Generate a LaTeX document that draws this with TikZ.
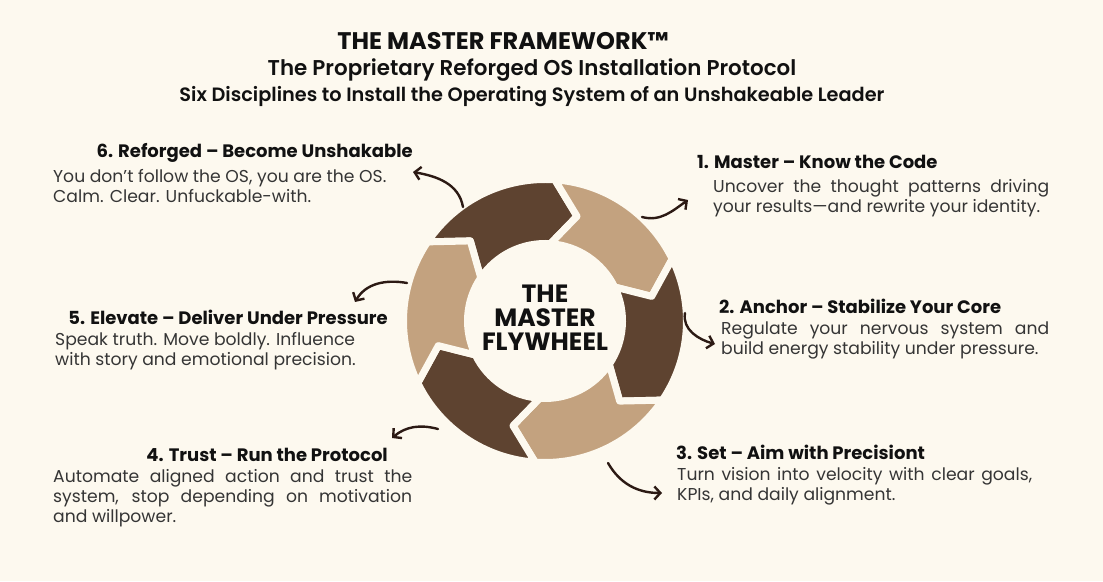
\documentclass[tikz,border=0pt]{standalone}
\usepackage{fontspec}
\setmainfont{Poppins}
\newfontfamily\semib{Poppins SemiBold}
\usetikzlibrary{arrows.meta}
\definecolor{cream}{HTML}{FDF9EF}
\definecolor{brdark}{HTML}{5E4330}
\definecolor{brlight}{HTML}{C3A27F}
\definecolor{ink}{HTML}{111111}
\definecolor{arrowc}{HTML}{2C1A14}
\tikzset{title/.style={font=\fontsize{24}{28}\selectfont\bfseries,text=ink,inner sep=0pt},
 sub/.style={font=\fontsize{21.4}{24}\selectfont\semib,text=ink,inner sep=0pt},
 subs/.style={font=\fontsize{19.3}{22}\selectfont\semib,text=ink,inner sep=0pt},
 core/.style={font=\fontsize{25}{24}\selectfont\bfseries,text=ink,align=center,inner sep=0pt},
 head/.style={font=\fontsize{18}{20}\selectfont\bfseries,text=ink,inner sep=0pt},
 body/.style={font=\fontsize{17.2}{20}\selectfont,text=ink!85,inner sep=0pt,anchor=north west,align=justify},
 seg/.style={draw=cream,line width=7pt,line join=round},
 curl/.style={draw=arrowc,line width=2.4pt,line cap=round,-{Straight Barb[length=6pt,width=13pt]}}}
\newcommand{\flyseg}[2]{\filldraw[seg,fill=#2] (#1:141.5) arc[start angle=#1,end angle=#1-60,radius=141.5] -- ({#1-73}:109.5) -- ({#1-60}:77.5) arc[start angle=#1-60,end angle=#1,radius=77.5] -- ({#1-13}:109.5) -- cycle;}

\begin{document}
\begin{tikzpicture}[x=1pt,y=1pt]
\fill[cream](0,0) rectangle (1103,581);
\begin{scope}[shift={(545,260)}]
\flyseg{146}{brdark}\flyseg{86}{brlight}\flyseg{26}{brdark}
\flyseg{-34}{brlight}\flyseg{-94}{brdark}\flyseg{-154}{brlight}
\end{scope}
\node[core](fw) at(545,263){THE\\MASTER\\FLYWHEEL};
\node[title](ttl) at(503,540){THE MASTER FRAMEWORK™};
\node[sub](st) at(532,511){The Proprietary Reforged OS Installation Protocol};
\node[subs](st2) at(532,484){Six Disciplines to Install the Operating System of an Unshakeable Leader};
\node[head,anchor=west](h1) at(697,419){1. Master – Know the Code};
\node[body,text width=336pt](b1) at(713,402){Uncover the thought patterns driving\linebreak your results—and rewrite your identity.};
\node[head,anchor=west](h2) at(719,275){2. Anchor – Stabilize Your Core};
\node[body,text width=328pt](b2) at(721,259){Regulate your nervous system and\linebreak build energy stability under pressure.};
\node[head,anchor=west](h3) at(676,129){3. Set – Aim with Precisiont};
\node[body,text width=355pt](b3) at(677,114){Turn vision into velocity with clear goals,\linebreak KPIs, and daily alignment.};
\node[head,anchor=east](h4) at(388,126){4. Trust – Run the Protocol};
\node[body,text width=359pt](b4) at(53,112){Automate aligned action and trust the\linebreak system, stop depending on motivation\linebreak and willpower.};
\node[head,anchor=east](h5) at(388,264){5. Elevate – Deliver Under Pressure};
\node[body,align=left](b5) at(55,249){Speak truth. Move boldly. Influence\\with story and emotional precision.};
\node[head,anchor=east](h6) at(413,428){6. Reforged – Become Unshakable};
\node[body,align=left](b6) at(53,412){You don’t follow the OS, you are the OS.\\Calm. Clear. Unfuckable-with.};
\coordinate(a1s) at(642,364);\coordinate(a1e) at(688,381);
\coordinate(a2s) at(685,268);\coordinate(a2e) at(715,237);
\coordinate(a3s) at(608,118);\coordinate(a3e) at(662,88);
\coordinate(a4s) at(438,152);\coordinate(a4e) at(392,143);
\coordinate(a5s) at(407,298);\coordinate(a5e) at(355,279);
\coordinate(a6s) at(463,374);\coordinate(a6e) at(413,409);
\draw[curl](a1s) to[out=-15,in=215](a1e);
\draw[curl](a2s) to[out=-100,in=165](a2e);
\draw[curl](a3s) to[out=-60,in=180](a3e);
\draw[curl](a4s) to[out=165,in=40](a4e);
\draw[curl](a5s) to[out=170,in=60](a5e);
\draw[curl](a6s) to[out=100,in=-10](a6e);
\end{tikzpicture}
\end{document}
